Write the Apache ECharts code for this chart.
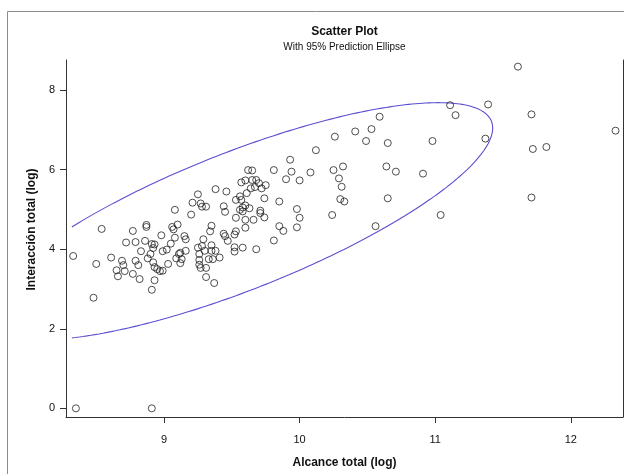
<!DOCTYPE html>
<html>
<head>
<meta charset="utf-8">
<script src="https://cdn.jsdelivr.net/npm/echarts@6/dist/echarts.min.js"></script>
<style>
  html, body { margin: 0; padding: 0; background: #ffffff; }
  #chart { width: 624px; height: 474px; }
</style>
</head>
<body>
<div id="chart"></div>
<script>
// Alcance total (log) for each observation
const alcance = [
  8.33, 8.35, 8.48, 8.50, 8.54, 8.61, 8.65, 8.66, 8.69, 8.70,
  8.71, 8.72, 8.77, 8.77, 8.79, 8.79, 8.81, 8.82, 8.83, 8.87,
  8.87, 8.86, 8.88, 8.91, 8.91, 8.92, 8.93, 8.90, 8.92, 8.93,
  8.95, 8.97, 8.99, 8.93, 8.91, 8.98, 8.99, 9.02, 9.03, 9.05,
  9.06, 9.07, 9.08, 9.10, 9.08, 9.09, 9.11, 9.12, 9.13, 9.12,
  9.15, 9.16, 9.16, 9.20, 9.21, 9.25, 9.27, 9.28, 9.31, 9.25,
  9.26, 9.26, 9.26, 9.27, 9.29, 9.28, 9.30, 9.31, 9.31, 9.33,
  9.35, 9.35, 9.36, 9.38, 9.35, 9.34, 9.37, 9.38, 9.41, 9.44,
  9.45, 9.44, 9.45, 9.46, 9.47, 9.52, 9.52, 9.53, 9.52, 9.53,
  9.53, 9.56, 9.57, 9.57, 9.56, 9.58, 9.58, 9.60, 9.58, 9.60,
  9.60, 9.61, 9.60, 9.62, 9.65, 9.65, 9.68, 9.64, 9.67, 9.66,
  9.68, 9.70, 9.72, 9.75, 9.71, 9.71, 9.74, 9.74, 9.81, 9.85,
  9.85, 9.88, 9.81, 9.90, 9.93, 9.94, 10.00, 9.98, 10.00, 9.98,
  10.08, 10.12, 10.24, 10.25, 10.26, 10.29, 10.31, 10.30, 10.33, 10.32,
  10.41, 10.49, 10.53, 10.59, 10.56, 10.64, 10.65, 10.65, 10.71, 10.91,
  10.98, 11.04, 11.11, 11.15, 11.37, 11.39, 11.61, 11.71, 11.72, 11.82,
  11.71, 12.33, 9.63
];

// Interacción total (log) for each observation
const interaccion = [
  3.83, 0.00, 2.78, 3.63, 4.51, 3.79, 3.47, 3.32, 3.71, 3.60,
  3.45, 4.17, 3.38, 4.46, 4.18, 3.71, 3.60, 3.25, 3.95, 4.61,
  4.56, 4.21, 3.77, 0.00, 4.13, 4.03, 4.12, 3.88, 3.67, 3.55,
  3.50, 3.45, 3.46, 3.22, 2.98, 4.35, 3.95, 3.99, 3.63, 4.14,
  4.56, 4.50, 4.99, 4.62, 4.29, 3.77, 3.88, 3.91, 3.75, 3.65,
  4.33, 4.25, 3.96, 4.87, 5.17, 5.38, 5.15, 5.07, 5.07, 4.04,
  3.88, 3.73, 3.61, 3.53, 4.25, 4.08, 3.96, 3.53, 3.30, 3.75,
  4.10, 3.96, 3.75, 3.96, 4.59, 4.45, 3.15, 5.51, 3.79, 5.08,
  4.94, 4.39, 4.33, 5.45, 4.21, 4.05, 3.94, 4.45, 4.37, 4.79,
  5.24, 5.33, 5.24, 5.68, 4.99, 4.95, 5.05, 5.10, 4.04, 4.54,
  4.74, 5.41, 5.73, 5.99, 5.98, 5.74, 5.74, 5.53, 5.56, 4.74,
  4.00, 5.66, 5.53, 5.61, 4.97, 4.91, 5.28, 4.80, 5.99, 5.20,
  4.58, 4.46, 4.22, 5.76, 6.25, 5.95, 5.73, 5.01, 4.79, 4.55,
  5.93, 6.49, 4.86, 5.99, 6.83, 5.78, 5.57, 5.26, 5.20, 6.08,
  6.96, 6.72, 7.02, 7.33, 4.58, 6.08, 6.67, 5.28, 5.95, 5.90,
  6.72, 4.86, 7.62, 7.37, 6.78, 7.64, 8.59, 7.39, 6.52, 6.57,
  5.30, 6.98, 5.03
];

// Axis ticks
const xTicks = [9, 10, 11, 12];
const yTicks = [0, 2, 4, 6, 8];

// 95% prediction ellipse: centre, half-width in x, slope of the
// vertical-chord midline, vertical half-height at the centre
const ellipseCenter = [9.548, 4.70];
const ellipseHalfWidth = 1.876;
const ellipseSlope = 1.25;
const ellipseHalfHeight = 1.846;
const ellipseStartX = 8.32;   // curve is drawn from the smallest observed x

const FONT = "'Liberation Sans', Arial, Helvetica, sans-serif";
const INK = '#111111';

const points = alcance.map((x, i) => [x, interaccion[i]]);

// Trace the ellipse from its lower-left end, round the right side, back to the upper-left end
function ellipsePath() {
  const [cx, cy] = ellipseCenter;
  const cosStart = (ellipseStartX - cx) / ellipseHalfWidth;
  const tMax = Math.acos(Math.max(-1, Math.min(1, cosStart)));
  const steps = 240;
  const out = [];
  for (let i = 0; i <= steps; i++) {
    const t = -tMax + (2 * tMax * i) / steps;
    const c = Math.cos(t), s = Math.sin(t);
    out.push([
      cx + ellipseHalfWidth * c,
      cy + ellipseSlope * ellipseHalfWidth * c + ellipseHalfHeight * s
    ]);
  }
  return out;
}

const chart = echarts.init(document.getElementById('chart'), null, { renderer: 'canvas' });

chart.setOption({
  animation: false,
  backgroundColor: '#ffffff',
  grid: { left: 66, right: 1, top: 60, bottom: 52.3, containLabel: false },
  graphic: [
    {
      type: 'rect', silent: true, z: -10,
      shape: { x: 7.5, y: 11.5, width: 800, height: 600 },
      style: { fill: 'none', stroke: '#8c8c8c', lineWidth: 1 }
    },
    {
      type: 'text', x: 344.5, y: 32,
      style: {
        text: 'Scatter Plot', fill: INK, font: 'bold 12px ' + FONT,
        textAlign: 'center', textVerticalAlign: 'middle'
      }
    },
    {
      type: 'text', x: 344.5, y: 47,
      style: {
        text: 'With 95% Prediction Ellipse', fill: INK, font: '10px ' + FONT,
        textAlign: 'center', textVerticalAlign: 'middle'
      }
    }
  ],
  xAxis: {
    type: 'value',
    min: 8.277,
    max: 12.385,
    name: 'Alcance total (log)',
    nameLocation: 'middle',
    nameGap: 40,
    nameTextStyle: { color: INK, fontFamily: FONT, fontSize: 12, fontWeight: 'bold' },
    axisLine: { show: true, onZero: false, lineStyle: { color: '#333333', width: 1 } },
    axisTick: { show: true, length: 6, customValues: xTicks, lineStyle: { color: '#333333' } },
    axisLabel: {
      show: true, customValues: xTicks, margin: 17,
      color: INK, fontFamily: FONT, fontSize: 11,
      showMinLabel: true, showMaxLabel: true
    },
    splitLine: { show: false }
  },
  yAxis: [
    {
      type: 'value',
      min: -0.218,
      max: 8.757,
      name: 'Interacción total (log)',
      nameLocation: 'middle',
      nameGap: 26,
      nameRotate: 90,
      nameTextStyle: {
        color: INK, fontFamily: FONT, fontSize: 12, fontWeight: 'bold',
        padding: [0, 0, 0, 18]
      },
      axisLine: { show: true, onZero: false, lineStyle: { color: '#333333', width: 1 } },
      axisTick: { show: true, length: 6, customValues: yTicks, lineStyle: { color: '#333333' } },
      axisLabel: {
        show: true, customValues: yTicks, margin: 11,
        color: INK, fontFamily: FONT, fontSize: 11
      },
      splitLine: { show: false }
    },
    {
      type: 'value',
      position: 'right',
      min: -0.218,
      max: 8.757,
      axisLine: { show: true, onZero: false, lineStyle: { color: '#333333', width: 1 } },
      axisTick: { show: false },
      axisLabel: { show: false },
      splitLine: { show: false }
    }
  ],
  series: [
    {
      type: 'line',
      name: 'Prediction ellipse',
      data: ellipsePath(),
      showSymbol: false,
      smooth: false,
      clip: true,
      lineStyle: { color: '#5a4fd0', width: 1.1 },
      silent: true,
      z: 2
    },
    {
      type: 'scatter',
      name: 'Observaciones',
      data: points,
      symbol: 'circle',
      symbolSize: 7,
      itemStyle: { color: 'rgba(0,0,0,0)', borderColor: '#222222', borderWidth: 1 },
      clip: false,
      z: 3
    }
  ]
});
</script>
</body>
</html>
